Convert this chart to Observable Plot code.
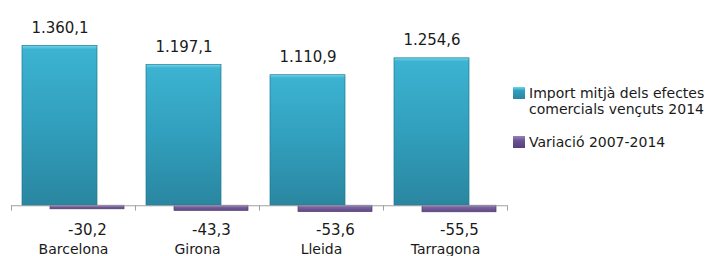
<!DOCTYPE html>
<html><head><meta charset="utf-8">
<script src="https://cdn.jsdelivr.net/npm/d3@7"></script>
<script src="https://cdn.jsdelivr.net/npm/@observablehq/plot@0.6"></script>
<style>
body{margin:0;background:#fff;font-family:"DejaVu Sans",sans-serif;}
#wrap{position:relative;width:711px;height:256px;overflow:hidden;}
#legend{position:absolute;left:513px;top:85px;font-size:14px;color:#1a1a1a;line-height:16px;}
.item{display:flex;align-items:flex-start;margin-bottom:17px;}
.sw{width:12px;height:12px;margin-right:4px;margin-top:2px;flex:none;box-sizing:border-box;}
</style></head><body><div id="wrap"></div>
<script>
const categories = ["Barcelona", "Girona", "Lleida", "Tarragona"];
const import2014 = [1360.1, 1197.1, 1110.9, 1254.6];
const variacio = [-30.2, -43.3, -53.6, -55.5];
const seriesNames = ["Import mitjà dels efectes comercials vençuts 2014", "Variació 2007-2014"];

const loc = d3.formatLocale({decimal: ",", thousands: ".", grouping: [3], currency: ["", "€"], minus: "-"});
const fmt = loc.format(",.1f");
const data = categories.map((c, i) => ({cat: c, imp: import2014[i], vari: variacio[i]}));

const half = 62;
const chart = Plot.plot({
  width: 711, height: 256,
  marginLeft: 11, marginRight: 204, marginTop: 29, marginBottom: 39,
  style: {fontFamily: "DejaVu Sans", color: "#1a1a1a", background: "transparent"},
  x: {type: "band", domain: categories, padding: 0, axis: null},
  y: {domain: [-100, 1500], axis: null},
  marks: [
    Plot.barY(data, {x: "cat", y: "imp", fill: "url(#gCyan)", stroke: "#1f7890", strokeWidth: 0.7, insetLeft: 11, insetRight: 38}),
    Plot.barY(data, {x: "cat", y: "vari", fill: "url(#gPurple)", stroke: "#4e3a70", strokeWidth: 0.7, insetLeft: 39, insetRight: 11}),
    Plot.ruleY([0], {stroke: "#a0a0a0", strokeWidth: 1.2}),
    Plot.ruleX(categories, {x: d => d, dx: -half, y1: 0, y2: -45, stroke: "#a0a0a0"}),
    Plot.ruleX(categories.slice(-1), {x: d => d, dx: half, y1: 0, y2: -45, stroke: "#a0a0a0"}),
    Plot.text(data, {x: "cat", y: "imp", text: d => fmt(d.imp), dx: -13.5, dy: -18, fontSize: 15, fill: "#1a1a1a"}),
    Plot.text(data, {x: "cat", y: 0, text: d => fmt(d.vari), dx: 14, dy: 24, fontSize: 15, fill: "#1a1a1a"}),
    Plot.text(data, {x: "cat", y: 0, text: "cat", dy: 44, fontSize: 14, fill: "#1a1a1a"})
  ]
});
d3.select(chart).insert("defs", ":first-child").html(`
  <linearGradient id="gCyan" x1="0" y1="0" x2="0" y2="1">
    <stop offset="0" stop-color="#6fd6ec"/>
    <stop offset="0.025" stop-color="#3cb3d1"/>
    <stop offset="0.5" stop-color="#319fbd"/>
    <stop offset="1" stop-color="#2a86a0"/>
  </linearGradient>
  <linearGradient id="gPurple" x1="0" y1="0" x2="0" y2="1">
    <stop offset="0" stop-color="#8a70b0"/>
    <stop offset="1" stop-color="#5e4785"/>
  </linearGradient>`);
document.getElementById("wrap").appendChild(chart);

const legend = document.createElement("div");
legend.id = "legend";
const swatches = ["linear-gradient(#6fd6ec,#2f9fbd 30%,#2a86a0)", "linear-gradient(#9a82c0,#6a5190 40%,#56407a)"];
const labels = ["Import mitjà dels efectes<br>comercials vençuts 2014", seriesNames[1]];
labels.forEach((t, i) => {
  const it = document.createElement("div");
  it.className = "item";
  it.innerHTML = `<div class="sw" style="background:${swatches[i]}"></div><div>${t}</div>`;
  legend.appendChild(it);
});
document.getElementById("wrap").appendChild(legend);
</script></body></html>
